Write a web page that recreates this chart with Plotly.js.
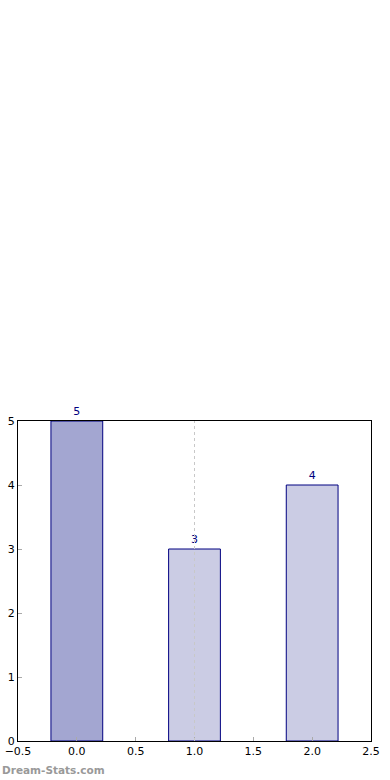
<!DOCTYPE html>
<html>
<head>
<meta charset="utf-8">
<script src="https://cdn.plot.ly/plotly-3.0.1.min.js"></script>
<style>
html,body{margin:0;padding:0;background:#fff;}
#chart{width:390px;height:780px;}
</style>
</head>
<body>
<div id="chart"></div>
<script>
const positions = [0, 1, 2];
const values = [5, 3, 4];
const labels = ["5", "3", "4"];
const barColors = ["#a3a6d1", "#cbcce4", "#cbcce4"];
const xTicks = [-0.5, 0, 0.5, 1, 1.5, 2, 2.5];
const xTickText = ["\u22120.5", "0.0", "0.5", "1.0", "1.5", "2.0", "2.5"];
const yTicks = [0, 1, 2, 3, 4, 5];
const highlightX = 1;

const trace = {
  type: 'bar',
  x: positions,
  y: values,
  width: 0.44,
  text: labels,
  textposition: 'outside',
  cliponaxis: false,
  textfont: {family: 'DejaVu Sans', size: 11, color: '#000080'},
  marker: {color: barColors, line: {color: '#000080', width: 1}},
  hoverinfo: 'none'
};

const layout = {
  width: 390, height: 780,
  margin: {l: 18, r: 19, t: 421, b: 39},
  paper_bgcolor: '#fff', plot_bgcolor: '#fff',
  showlegend: false,
  font: {family: 'DejaVu Sans', size: 11, color: '#000'},
  xaxis: {
    range: [-0.5, 2.5], tickvals: xTicks, ticktext: xTickText,
    ticks: 'inside', ticklen: 4, tickcolor: '#aaa', tickwidth: 1,
    showline: true, linecolor: '#000', linewidth: 1, mirror: true,
    showgrid: false, zeroline: false, fixedrange: true,
    tickfont: {family: 'DejaVu Sans', size: 11, color: '#000'}
  },
  yaxis: {
    range: [0, 5], tickvals: yTicks,
    ticks: 'inside', ticklen: 4, tickcolor: '#aaa', tickwidth: 1,
    showline: true, linecolor: '#000', linewidth: 1, mirror: true,
    showgrid: false, zeroline: false, fixedrange: true,
    tickfont: {family: 'DejaVu Sans', size: 11, color: '#000'}
  },
  shapes: [{
    type: 'line', xref: 'x', yref: 'paper', x0: highlightX, x1: highlightX, y0: 0, y1: 1,
    line: {color: '#c8c8c8', width: 1, dash: 'dot'}, layer: 'above'
  }],
  annotations: [{
    text: '<b>Dream-Stats.com</b>', xref: 'paper', yref: 'paper',
    x: -18/353, y: -29/320, xanchor: 'left', yanchor: 'middle', showarrow: false,
    font: {family: 'DejaVu Sans', size: 10.5, color: '#999999'}
  }]
};

Plotly.newPlot('chart', [trace], layout, {displayModeBar: false, staticPlot: true});
</script>
</body>
</html>
